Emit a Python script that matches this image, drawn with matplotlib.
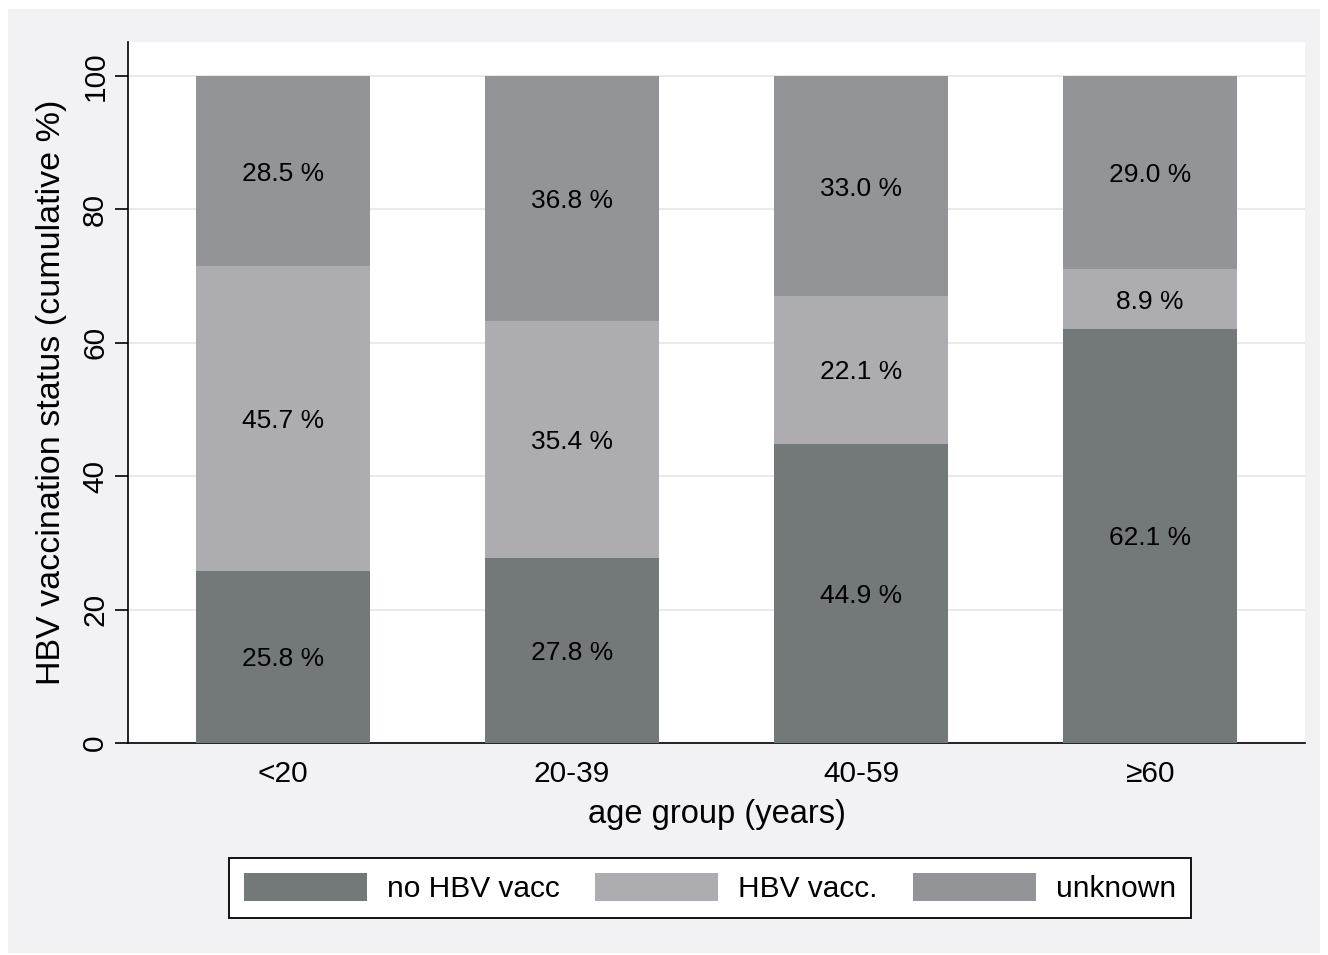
import numpy as np
import matplotlib.pyplot as plt
import matplotlib.patches as mpatches

plt.rcParams['font.family'] = ['Liberation Sans', 'DejaVu Sans']

# Age groups and share (%) per vaccination status
age_groups = ['<20', '20-39', '40-59', '≥60']
no_vacc = [25.8, 27.8, 44.9, 62.1]
hbv_vacc = [45.7, 35.4, 22.1, 8.9]
unknown = [28.5, 36.8, 33.0, 29.0]
series_names = ['no HBV vacc', 'HBV vacc.', 'unknown']
colors = ['#737878', '#adacb1', '#939498']

fig = plt.figure(figsize=(13.28, 9.55), dpi=100, facecolor='white')
# Stata-like light gray outer region
fig.patches.append(mpatches.Rectangle((8/1328, 1-953/955), 1312/1328, 944/955,
                                      transform=fig.transFigure, facecolor='#f2f1f4',
                                      edgecolor='none', zorder=-10))
ax = fig.add_axes([128/1328, 1-743/955, 1177/1328, 701/955])
ax.set_facecolor('white')

x = np.arange(len(age_groups))
width = 0.602
bottom = np.zeros(len(age_groups))
handles = []
for vals, name, c in zip([no_vacc, hbv_vacc, unknown], series_names, colors):
    vals = np.array(vals)
    b = ax.bar(x, vals, width, bottom=bottom, color=c, label=name, zorder=3)
    handles.append(b)
    for xi, bi, v in zip(x, bottom, vals):
        ax.text(xi, bi + v/2, f'{v:.1f} %', ha='center', va='center_baseline',
                fontsize=19, zorder=4)
    bottom += vals

ax.set_xlim(-0.5365, 3.5365)
ax.set_ylim(0, 105.1)
ax.set_yticks([0, 20, 40, 60, 80, 100])
ax.set_yticklabels(['0', '20', '40', '60', '80', '100'], rotation=90, va='center')
ax.set_xticks(x)
ax.set_xticklabels(age_groups)
ax.tick_params(axis='y', length=9.5, width=1.2, labelsize=21.5, pad=4)
ax.tick_params(axis='x', length=0, labelsize=21.5, pad=12)
ax.yaxis.grid(True, color='#eaeaea', linewidth=1.5, zorder=0)
ax.set_axisbelow(True)
for s in ['top', 'right']:
    ax.spines[s].set_visible(False)
for s in ['left', 'bottom']:
    ax.spines[s].set_linewidth(1.2)

ax.set_ylabel('HBV vaccination status (cumulative %)', fontsize=24.5, labelpad=10)
ax.set_xlabel('age group (years)', fontsize=23.5, labelpad=8)

leg = fig.legend(handles=handles, labels=series_names, loc='center',
                 bbox_to_anchor=(710/1328, 1-888/955), ncol=3, fontsize=21.5,
                 frameon=True, fancybox=False, edgecolor='black', framealpha=1,
                 handlelength=4.1, handleheight=1.1, handletextpad=0.67,
                 columnspacing=1.2, borderpad=0.5)
leg.get_frame().set_linewidth(1.3)

plt.savefig('out.png', dpi=100, facecolor=fig.get_facecolor())
